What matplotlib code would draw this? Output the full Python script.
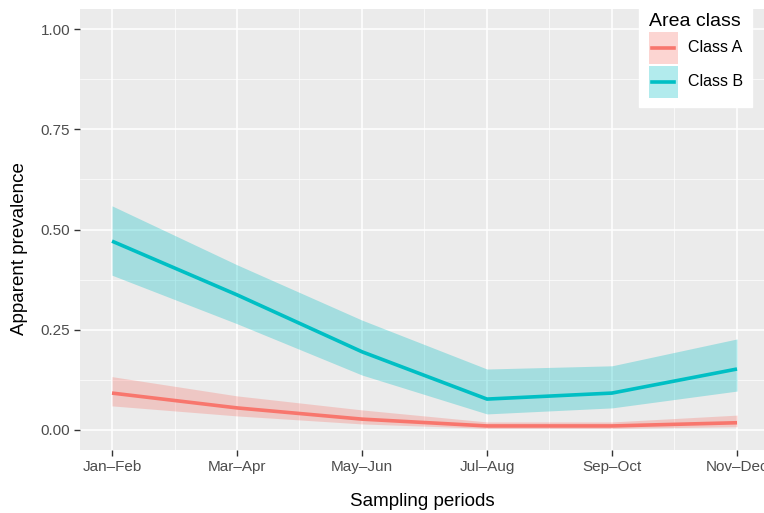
import matplotlib
matplotlib.use("Agg")
import matplotlib.pyplot as plt
from matplotlib.patches import Rectangle
from matplotlib.lines import Line2D
from matplotlib.legend_handler import HandlerBase

plt.rcParams["font.family"] = ["Liberation Sans", "DejaVu Sans"]

periods = ["Jan\u2013Feb", "Mar\u2013Apr", "May\u2013Jun", "Jul\u2013Aug", "Sep\u2013Oct", "Nov\u2013Dec"]
x = [1, 2, 3, 4, 5, 6]

class_a_mean = [0.092, 0.055, 0.027, 0.010, 0.010, 0.018]
class_a_low = [0.060, 0.035, 0.015, 0.004, 0.004, 0.008]
class_a_high = [0.133, 0.085, 0.050, 0.020, 0.020, 0.037]

class_b_mean = [0.471, 0.337, 0.195, 0.077, 0.092, 0.152]
class_b_low = [0.386, 0.265, 0.137, 0.040, 0.055, 0.097]
class_b_high = [0.559, 0.412, 0.274, 0.152, 0.160, 0.227]

col_a = "#F8766D"
col_b = "#00BFC4"


class RibbonKey(HandlerBase):
    """Legend key: translucent square with the line through its middle."""

    def create_artists(self, legend, orig_handle, xdescent, ydescent,
                       width, height, fontsize, trans):
        color = orig_handle.get_color()
        rect = Rectangle((-xdescent, -ydescent), width, height,
                         facecolor=color, alpha=0.3, lw=0, transform=trans)
        ymid = -ydescent + height / 2
        line = Line2D([-xdescent + 0.12 * width, -xdescent + 0.88 * width],
                      [ymid, ymid], color=color, lw=2.6, transform=trans)
        return [rect, line]


W, H = 764, 513
fig = plt.figure(figsize=(W / 100, H / 100), dpi=100)
ax = fig.add_axes([80 / W, 63 / H, 684 / W, 441 / H])
ax.set_facecolor("#EBEBEB")

ax.fill_between(x, class_a_low, class_a_high, color=col_a, alpha=0.3, lw=0, zorder=2)
ax.fill_between(x, class_b_low, class_b_high, color=col_b, alpha=0.3, lw=0, zorder=2)
line_a, = ax.plot(x, class_a_mean, color=col_a, lw=2.6, zorder=3, solid_capstyle="butt")
line_b, = ax.plot(x, class_b_mean, color=col_b, lw=2.6, zorder=3, solid_capstyle="butt")

ax.set_xlim(1 - 32 / 125, 6 + 27 / 125)
ax.set_ylim(-0.05, 1.05)
ax.set_xticks(x)
ax.set_xticklabels(periods)
ax.set_xticks([1.5, 2.5, 3.5, 4.5, 5.5], minor=True)
ax.set_yticks([0, 0.25, 0.5, 0.75, 1.0])
ax.set_yticklabels(["0.00", "0.25", "0.50", "0.75", "1.00"])
ax.set_yticks([0.125, 0.375, 0.625, 0.875], minor=True)

ax.grid(which="major", color="white", lw=1.1, zorder=1)
ax.grid(which="minor", color="white", lw=0.5, zorder=1)
ax.set_axisbelow(True)
for s in ax.spines.values():
    s.set_visible(False)
ax.tick_params(which="major", length=4, color="#333333", labelsize=11,
               labelcolor="#4D4D4D", width=1, pad=3)
ax.tick_params(which="minor", length=0)

fig.text(422 / W, 1 - 502 / H, "Sampling periods", fontsize=13.5,
         ha="center", va="center")
fig.text(20 / W, 1 - 249 / H, "Apparent prevalence", fontsize=13.5,
         ha="center", va="center", rotation=90)

leg = fig.legend([line_a, line_b], ["Class A", "Class B"], title="Area class",
                 handler_map={Line2D: RibbonKey()},
                 loc="upper left", bbox_to_anchor=(639 / W, 1 - 3 / H),
                 frameon=True, fancybox=False, framealpha=1, edgecolor="white",
                 fontsize=11.5, title_fontsize=14, handlelength=1.82, handleheight=2.7,
                 borderpad=0.6, labelspacing=0.13, handletextpad=0.63, borderaxespad=0.0)
leg._legend_box.align = "left"

fig.savefig("out.png", dpi=100)
